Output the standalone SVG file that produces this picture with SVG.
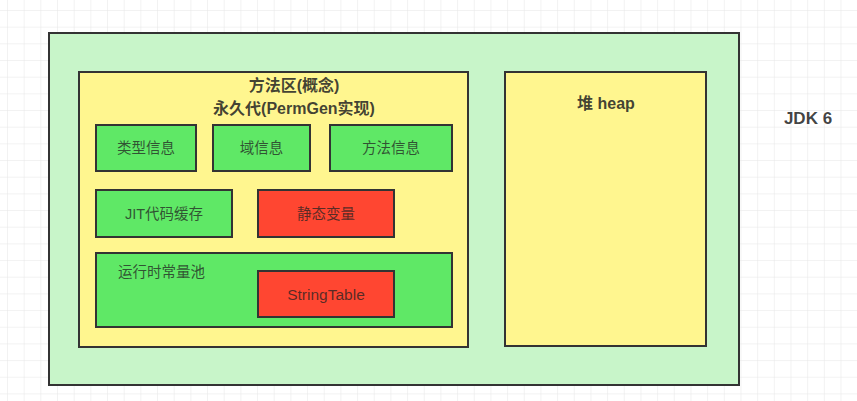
<svg xmlns="http://www.w3.org/2000/svg" width="857" height="401" viewBox="0 0 857 401">
<defs>
<pattern id="grid" x="7" y="10" width="16.67" height="16.67" patternUnits="userSpaceOnUse">
<path d="M0 0H16.67M0 0V16.67" fill="none" stroke="#e6e6e6" stroke-width="1"/>
</pattern>
<style>
.box{stroke:#333;stroke-width:2}
.outer{fill:#c8f5c9}
.yel{fill:#fff68f}
.grn{fill:#5fe866}
.red{fill:#ff4631}
.t{font-family:"Liberation Sans","Noto Sans CJK SC",sans-serif;font-size:14.5px;fill:#222;fill-opacity:0.75;text-anchor:middle;dominant-baseline:central}
.b{font-weight:bold;fill-opacity:0.85;font-size:16px}
</style>
</defs>
<rect width="857" height="401" fill="#ffffff"/>
<rect width="857" height="401" fill="url(#grid)"/>
<g id="outer"><rect class="box outer" x="49" y="33" width="690" height="352"/></g>
<g id="method-area">
<rect class="box yel" x="79" y="72" width="389" height="275"/>
<text class="t b" x="294" y="85">方法区(概念)</text>
<text class="t b" x="294" y="108">永久代(PermGen实现)</text>
</g>
<g id="type-info"><rect class="box grn" x="96" y="125" width="100" height="46"/><text class="t" x="146" y="148">类型信息</text></g>
<g id="field-info"><rect class="box grn" x="213" y="125" width="97" height="46"/><text class="t" x="261.5" y="148">域信息</text></g>
<g id="method-info"><rect class="box grn" x="330" y="125" width="122" height="46"/><text class="t" x="391" y="148">方法信息</text></g>
<g id="jit"><rect class="box grn" x="96" y="190" width="136" height="47"/><text class="t" x="164" y="213.5">JIT代码缓存</text></g>
<g id="static-vars"><rect class="box red" x="258" y="190" width="136" height="47"/><text class="t" x="326" y="213.5">静态变量</text></g>
<g id="runtime-pool"><rect class="box grn" x="96" y="253" width="356" height="74"/><text class="t" x="161.5" y="272">运行时常量池</text></g>
<g id="string-table"><rect class="box red" x="258" y="271" width="136" height="46"/><text class="t" x="326" y="294.5" style="font-size:15.5px">StringTable</text></g>
<g id="heap"><rect class="box yel" x="505" y="72" width="201" height="274"/><text class="t b" x="606" y="103">堆 heap</text></g>
<g id="jdk6-label"><text class="t b" x="808" y="118" style="font-size:17px">JDK 6</text></g>
<g id="connectors"></g>
</svg>
